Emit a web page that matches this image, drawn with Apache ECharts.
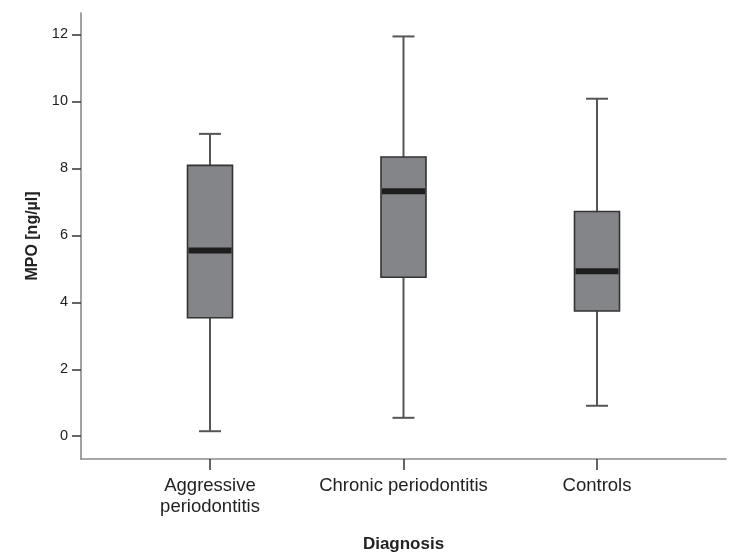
<!DOCTYPE html>
<html>
<head>
<meta charset="utf-8">
<script src="https://cdn.jsdelivr.net/npm/echarts@6/dist/echarts.min.js"></script>
<style>html,body{margin:0;padding:0;background:#fff}#c{width:750px;height:559px}</style>
</head>
<body>
<div id="c"></div>
<script>
const categories = ['Aggressive\nperiodontitis', 'Chronic periodontitis', 'Controls'];
const whiskerLow = [0.15, 0.55, 0.91];
const q1 = [3.54, 4.75, 3.74];
const median = [5.55, 7.32, 4.93];
const q3 = [8.09, 8.34, 6.71];
const whiskerHigh = [9.03, 11.94, 10.08];
const yTicks = [0, 2, 4, 6, 8, 10, 12];
const xPositions = [0, 1, 2];

const data = categories.map((c, i) => [xPositions[i], whiskerLow[i], q1[i], median[i], q3[i], whiskerHigh[i]]);

const FONT = '"Liberation Sans", Arial, Helvetica, sans-serif';

function renderItem(params, api) {
  const x = api.value(0);
  const lo = api.coord([x, api.value(1)]);
  const b1 = api.coord([x, api.value(2)]);
  const md = api.coord([x, api.value(3)]);
  const b3 = api.coord([x, api.value(4)]);
  const hi = api.coord([x, api.value(5)]);
  const cx = lo[0];
  const bw = 45, cw = 22;
  const wStyle = { stroke: '#555', lineWidth: 2 };
  return {
    type: 'group',
    children: [
      { type: 'line', shape: { x1: cx, y1: hi[1], x2: cx, y2: b3[1] }, style: wStyle },
      { type: 'line', shape: { x1: cx, y1: b1[1], x2: cx, y2: lo[1] }, style: wStyle },
      { type: 'line', shape: { x1: cx - cw / 2, y1: hi[1], x2: cx + cw / 2, y2: hi[1] }, style: wStyle },
      { type: 'line', shape: { x1: cx - cw / 2, y1: lo[1], x2: cx + cw / 2, y2: lo[1] }, style: wStyle },
      { type: 'rect', shape: { x: cx - bw / 2, y: b3[1], width: bw, height: b1[1] - b3[1] },
        style: { fill: '#838588', stroke: '#333', lineWidth: 1.6 } },
      { type: 'line', shape: { x1: cx - bw / 2 + 1, y1: md[1], x2: cx + bw / 2 - 1, y2: md[1] },
        style: { stroke: '#1e1e1e', lineWidth: 6 } }
    ]
  };
}

const chart = echarts.init(document.getElementById('c'), null, { renderer: 'canvas' });
chart.setOption({
  backgroundColor: '#fff',
  animation: false,
  grid: { left: 81, right: 24, top: 13, bottom: 100 },
  xAxis: {
    type: 'value',
    min: -2 / 3,
    max: 8 / 3,
    splitLine: { show: false },
    axisLine: { show: true, onZero: false, lineStyle: { color: '#8a8a8a', width: 1.6 } },
    axisTick: { show: true, customValues: xPositions, length: 11, lineStyle: { color: '#333', width: 1.5 } },
    axisLabel: {
      customValues: xPositions,
      formatter: (v) => categories[Math.round(v)],
      fontFamily: FONT, fontSize: 18.5, color: '#222', lineHeight: 21, margin: 16
    },
    name: 'Diagnosis',
    nameLocation: 'middle',
    nameGap: 77,
    nameTextStyle: { fontFamily: FONT, fontSize: 17, fontWeight: 'bold', color: '#222' }
  },
  yAxis: {
    type: 'value',
    min: -0.68,
    max: 12.64,
    splitLine: { show: false },
    axisLine: { show: true, onZero: false, lineStyle: { color: '#8a8a8a', width: 1.6 } },
    axisTick: { show: true, customValues: yTicks, length: 9, lineStyle: { color: '#333', width: 1.5 } },
    axisLabel: { customValues: yTicks, fontFamily: FONT, fontSize: 14.5, color: '#222', margin: 13 },
    name: 'MPO [ng/µl]',
    nameLocation: 'middle',
    nameGap: 38,
    nameTextStyle: { fontFamily: FONT, fontSize: 16, fontWeight: 'bold', color: '#222' }
  },
  series: [{
    type: 'custom',
    renderItem: renderItem,
    encode: { x: 0, y: [1, 2, 3, 4, 5] },
    data: data
  }]
});
</script>
</body>
</html>
